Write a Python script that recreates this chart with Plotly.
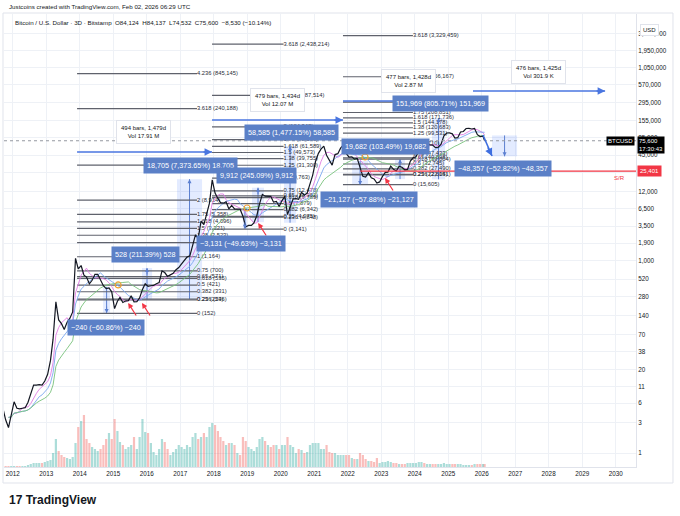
import math
import pandas as pd
import plotly.graph_objects as go

FONT = "Liberation Sans, Arial, sans-serif"
TXT = "#131722"

# ---------------- data ----------------
# representative monthly BTC/USD price (Bitstamp), Sep 2011 .. Feb 2026
price_close = [
    5.0, 3.3, 2.5, 3.8,                                                          # 2011 Sep-Dec
    6.3, 5.0, 4.9, 5.0, 5.1, 6.2, 8.5, 11.5, 11.5, 11.7, 11.5, 13.3,             # 2012
    17, 28, 60, 230, 120, 105, 85, 110, 128, 160, 1100, 750,                     # 2013
    850, 600, 560, 440, 500, 620, 620, 500, 410, 370, 380, 330,                  # 2014
    180, 235, 270, 225, 237, 240, 285, 230, 232, 265, 360, 440,                  # 2015
    400, 410, 415, 440, 460, 700, 660, 575, 610, 640, 730, 790,                  # 2016
    900, 1040, 1150, 1200, 1800, 2550, 2250, 4200, 3700, 5600, 8000, 18500,      # 2017
    11500, 9500, 8200, 8000, 8400, 6500, 7400, 6500, 6500, 6450, 5000, 3400,     # 2018
    3600, 3600, 3950, 5100, 7800, 11000, 10300, 10300, 10200, 8300, 8500, 7100,  # 2019
    8800, 10200, 5300, 7100, 9300, 9400, 9200, 11800, 10700, 11500, 16500, 22000,          # 2020
    36000, 48000, 56000, 62500, 45000, 38000, 31500, 46000, 47500, 58000, 65000, 48000,    # 2021
    42000, 42500, 39000, 40000, 30000, 21000, 20500, 24000, 20000, 19100, 16500, 17200,    # 2022
    21000, 24300, 24500, 30300, 27000, 25500, 30300, 29200, 26600, 27000, 36500, 41000,    # 2023
    42500, 51800, 71000, 63500, 66000, 66300, 64800, 59000, 60000, 67000, 90000, 100000,   # 2024
    100500, 97000, 83000, 84500, 103500, 105500, 117500, 118000, 115500, 118000, 94000, 88000,  # 2025
    89500, 75600,                                                                # 2026
]
# relative volume (monthly)
volume = [
    1, 1, 1, 1,
    1, 1, 1, 1, 1, 2, 3, 4, 4, 4, 4, 5,
    6, 7, 14, 28, 16, 12, 10, 9, 8, 10, 24, 40,
    46, 52, 28, 24, 20, 18, 16, 18, 22, 28, 34, 28,
    48, 36, 25, 22, 18, 20, 22, 30, 18, 30, 48, 35,
    34, 24, 15, 12, 18, 28, 25, 18, 12, 15, 18, 22,
    20, 18, 22, 20, 30, 34, 28, 30, 34, 30, 40, 44,
    42, 36, 30, 26, 22, 24, 24, 22, 14, 12, 30, 26,
    20, 18, 16, 20, 28, 30, 26, 22, 20, 22, 22, 18,
    22, 22, 30, 22, 20, 14, 18, 17, 14, 15, 22, 24,
    24, 24, 18, 18, 22, 15, 14, 14, 12, 12, 12, 12,
    12, 9, 8, 8, 14, 12, 8, 6, 6, 5, 9, 4,
    5, 5, 6, 5, 4, 4, 3, 3, 3, 4, 4, 4,
    4, 5, 5, 4, 3, 3, 3, 3, 3, 3, 4, 3,
    3, 3, 3, 3, 3, 2, 2, 2, 2, 3, 3, 3,
    3, 3,
]
last_date = "2026-02-02"
last_price = 75600

y_ticks = [1, 3, 6, 11, 20, 38, 70, 140, 280, 520, 1000, 1900, 3500, 6500, 12000,
           24000, 45000, 85000, 155000, 295000, 570000, 1050000, 1950000, 3550000]
y_tick_text = [f"{v:,}" for v in y_ticks]

# Fibonacci sets: start, end, price at level 0, price at level 1
fib_a = ["2013-12-02", "2017-07-02", 152, 1164]
fib_b = ["2017-12-13", "2020-02-01", 3141, 19763]
fib_c = ["2021-11-10", "2023-12-13", 15605, 68710]
fib_levels_a = [0, 0.236, 0.25, 0.382, 0.5, 0.618, 0.65, 0.75, 1, 1.25, 1.38, 1.5, 1.618, 1.75, 2, 2.618, 3.618, 4.236]
fib_levels_b = [0, 0.236, 0.25, 0.382, 0.5, 0.618, 0.65, 0.75, 1, 1.25, 1.38, 1.5, 1.618, 1.75, 2, 2.618, 3.618]
fib_levels_c = [0, 0.236, 0.25, 0.382, 0.5, 0.618, 0.65, 0.75, 1, 1.25, 1.38, 1.5, 1.618, 1.75, 2, 2.618, 3.618]

# price-range measurements
meas_x0 = ["2014-09-12", "2015-11-10", "2016-11-26", "2018-11-15", "2019-02-22", "2020-02-06", "2022-02-18", "2023-06-01", "2024-07-08", "2026-04-24"]
meas_x1 = ["2014-11-27", "2016-02-28", "2017-08-26", "2018-12-29", "2019-07-03", "2020-06-17", "2022-08-11", "2023-09-18", "2024-11-28", "2027-01-22"]
meas_from = [394, 249.8, 253.7, 6309, 4044, 3966, 36502, 19019, 18862, 91551]
meas_to = [154, 777.8, 18958, 3178, 13956, 62551, 15375, 38701, 170831, 43194]
meas_text = ["−240 (−60.86%) −240", "528 (211.39%) 528", "18,705 (7,373.65%) 18,705",
             "−3,131 (−49.63%) −3,131", "9,912 (245.09%) 9,912", "58,585 (1,477.15%) 58,585",
             "−21,127 (−57.88%) −21,127", "19,682 (103.49%) 19,682", "151,969 (805.71%) 151,969",
             "−48,357 (−52.82%) −48,357"]
meas_lbl_x = ["2014-10-16", "2015-12-13", "2017-04-20", "2018-10-25", "2019-04-08", "2020-04-23", "2022-08-16", "2023-02-17", "2024-10-08", "2026-08-25"]
meas_lbl_p = [93, 1241, 30500, 1910, 21290, 100000, 9300, 62600, 294000, 27380]

# date ranges
rng_start = ["2013-12-02", "2017-12-13", "2021-11-10", "2025-09-28"]
rng_end = ["2017-12-13", "2021-11-10", "2025-09-28", "2029-09-08"]
rng_price = [50500, 159700, 316000, 453000]
rng_text = ["494 bars, 1,479d<br>Vol 17.91 M", "479 bars, 1,434d<br>Vol 12.07 M",
            "477 bars, 1,428d<br>Vol 2.87 M", "476 bars, 1,425d<br>Vol 301.9 K"]
rng_lbl_x = ["2015-11-21", "2019-11-22", "2023-10-21", "2027-09-18"]
rng_lbl_p = [103700, 328000, 649000, 898000]

# red arrows (heads) and orange circles
red_arrow_x = ["2015-06-12", "2015-11-10", "2019-04-30", "2023-02-12"]
red_arrow_p = [221, 221, 3926, 19800]
circle_x = ["2015-02-23", "2018-12-30", "2022-07-09"]
circle_p = [422, 6730, 42170]

sr_level = 25401
sr_start = "2022-05-18"
proj_x = ["2026-01-15", "2026-04-24"]
proj_p = [93100, 43700]

x_range = ["2011-09-27", "2030-08-11"]
y_range_log = [-0.21875, 6.859]

# ---------------- build ----------------
n = len(price_close)
dates = list(pd.date_range("2011-09-01", periods=n, freq="MS") + pd.Timedelta(days=14))
dates[-1] = pd.Timestamp(last_date)
s = pd.Series(price_close, dtype=float)

fig = go.Figure()

vcol = ["rgba(38,166,154,0.38)" if i == 0 or price_close[i] >= price_close[i - 1]
        else "rgba(239,83,80,0.38)" for i in range(n)]
fig.add_trace(go.Bar(x=dates, y=volume, marker=dict(color=vcol, line=dict(width=0)),
                     width=24 * 86400000, yaxis="y"))

# measurement boxes
for x0, x1, a, b in zip(meas_x0, meas_x1, meas_from, meas_to):
    lo, hi = min(a, b), max(a, b)
    fig.add_trace(go.Scatter(x=[x0, x1, x1, x0, x0], y=[lo, lo, hi, hi, lo], yaxis="y2",
                             mode="lines", fill="toself", fillcolor="rgba(41,98,255,0.13)",
                             line=dict(width=0)))
    mid = pd.Timestamp(x0) + (pd.Timestamp(x1) - pd.Timestamp(x0)) / 2
    fig.add_trace(go.Scatter(x=[mid, mid], y=[a, b], yaxis="y2", mode="lines",
                             line=dict(color="#5b7fd0", width=1)))

# fib sets
def fib_traces(anchor, levels):
    x0, x1, p0, p1 = anchor
    xs, ys, tx, ty, tt = [], [], [], [], []
    for lv in levels:
        v = p0 * (p1 / p0) ** lv
        xs += [x0, x1, None]
        ys += [v, v, None]
        tx.append(x1)
        ty.append(v)
        tt.append(f"{lv:g} ({v:,.0f})")
    fig.add_trace(go.Scatter(x=xs, y=ys, yaxis="y2", mode="lines",
                             line=dict(color="#5f626c", width=1.2)))
    fig.add_trace(go.Scatter(x=tx, y=ty, yaxis="y2", mode="text", text=tt,
                             textposition="middle right",
                             textfont=dict(size=5.8, color="#2a2e39", family=FONT)))

fib_traces(fib_a, fib_levels_a)
fib_traces(fib_b, fib_levels_b)
fib_traces(fib_c, fib_levels_c)

# moving averages
for w, c in zip([5, 10, 20], ["#e07de3", "#7aa7ee", "#78c27c"]):
    fig.add_trace(go.Scatter(x=dates, y=s.rolling(w, min_periods=3).mean(), yaxis="y2",
                             mode="lines", line=dict(color=c, width=0.9)))

# price
fig.add_trace(go.Scatter(x=dates, y=price_close, yaxis="y2", mode="lines",
                         line=dict(color="#131722", width=1.2)))

# current price dotted line
fig.add_trace(go.Scatter(x=x_range, y=[last_price, last_price], yaxis="y2", mode="lines",
                         line=dict(color="#9598a1", width=1, dash="dot")))
# S/R line
fig.add_trace(go.Scatter(x=[sr_start, x_range[1]], y=[sr_level, sr_level], yaxis="y2",
                         mode="lines", line=dict(color="#f23645", width=1.2)))
# date range lines
for a, b, p in zip(rng_start, rng_end, rng_price):
    fig.add_trace(go.Scatter(x=[a, b], y=[p, p], yaxis="y2", mode="lines",
                             line=dict(color="#4a76e0", width=1.6)))
# projection arrow line
fig.add_trace(go.Scatter(x=proj_x, y=proj_p, yaxis="y2", mode="lines",
                         line=dict(color="#3f6fe0", width=1.6)))
# circles
fig.add_trace(go.Scatter(x=circle_x, y=circle_p, yaxis="y2", mode="markers",
                         marker=dict(symbol="circle-open", size=6, color="#f0a030",
                                     line=dict(width=1.2))))

ann = []
L = math.log10
for b, p in zip(rng_end, rng_price):
    ann.append(dict(x=b, y=L(p), xref="x", yref="y2", ax=-10, ay=0, text="",
                    showarrow=True, arrowhead=2, arrowsize=1, arrowwidth=1.5, arrowcolor="#4a76e0"))
ann.append(dict(x=proj_x[1], y=L(proj_p[1]), xref="x", yref="y2", ax=-5, ay=-10, text="",
                showarrow=True, arrowhead=2, arrowwidth=1.5, arrowcolor="#3f6fe0"))
for x0, x1, a, b in zip(meas_x0, meas_x1, meas_from, meas_to):
    mid = pd.Timestamp(x0) + (pd.Timestamp(x1) - pd.Timestamp(x0)) / 2
    ann.append(dict(x=mid, y=L(b), xref="x", yref="y2", ax=0, ay=(8 if b > a else -8), text="",
                    showarrow=True, arrowhead=2, arrowsize=0.8, arrowwidth=1, arrowcolor="#5b7fd0"))
for x, p in zip(red_arrow_x, red_arrow_p):
    ann.append(dict(x=x, y=L(p), xref="x", yref="y2", ax=9, ay=14, text="",
                    showarrow=True, arrowhead=2, arrowsize=0.9, arrowwidth=1.2, arrowcolor="#f23645"))
for x, p, t in zip(rng_lbl_x, rng_lbl_p, rng_text):
    ann.append(dict(x=x, y=L(p), xref="x", yref="y2", text=t, showarrow=False,
                    bgcolor="white", bordercolor="#e0e3eb", borderwidth=1, borderpad=4,
                    font=dict(size=6, color=TXT, family=FONT)))
for x, p, t in zip(meas_lbl_x, meas_lbl_p, meas_text):
    ann.append(dict(x=x, y=L(p), xref="x", yref="y2", text=t, showarrow=False,
                    bgcolor="#5b80c7", borderpad=3,
                    font=dict(size=7.2, color="white", family=FONT)))

ann.append(dict(x=1, y=L(last_price), xref="paper", yref="y2", xanchor="left", yanchor="top",
                yshift=5, xshift=1, text="75,600<br>17:30:43", showarrow=False, bgcolor="#000000",
                borderpad=1, align="left", font=dict(size=6, color="white", family=FONT)))
ann.append(dict(x=1, y=L(last_price), xref="paper", yref="y2", xanchor="right", yanchor="middle",
                xshift=-1, text="BTCUSD", showarrow=False, bgcolor="#000000", borderpad=1,
                font=dict(size=6, color="white", family=FONT)))
ann.append(dict(x=1, y=L(sr_level), xref="paper", yref="y2", xanchor="left", yanchor="middle",
                xshift=1, text="25,401", showarrow=False, bgcolor="#f23645", borderpad=2,
                font=dict(size=6, color="white", family=FONT)))
ann.append(dict(x=0.985, y=L(19800), xref="paper", yref="y2", text="S/R", showarrow=False,
                font=dict(size=6, color="#f23645", family=FONT)))
ann.append(dict(x=1.006, y=0.978, xref="paper", yref="paper", xanchor="left", text="USD",
                showarrow=False, bgcolor="white", bordercolor="#e0e3eb", borderwidth=1, borderpad=2,
                font=dict(size=6, color=TXT, family=FONT)))
ann.append(dict(x=0.0047, y=1.0155, xref="paper", yref="paper", xanchor="left", yanchor="middle",
                text="Justcoins created with TradingView.com, Feb 02, 2026 06:29 UTC", showarrow=False,
                font=dict(size=6.2, color=TXT, family=FONT)))
ann.append(dict(x=0.014, y=0.982, xref="paper", yref="paper", xanchor="left", yanchor="middle",
                text="Bitcoin / U.S. Dollar · 3D · Bitstamp  O84,124  H84,137  L74,532  C75,600  −8,530 (−10.14%)",
                showarrow=False, font=dict(size=6.2, color=TXT, family=FONT)))
ann.append(dict(x=0.005, y=-0.073, xref="paper", yref="paper", xanchor="left", yanchor="middle",
                text="<b>17 TradingView</b>", showarrow=False,
                font=dict(size=12, color=TXT, family=FONT)))

fig.update_layout(
    width=680, height=516,
    margin=dict(l=4, r=44, t=14, b=49),
    paper_bgcolor="white", plot_bgcolor="white",
    showlegend=False, hovermode=False,
    font=dict(family=FONT, size=6, color=TXT),
    annotations=ann,
    xaxis=dict(type="date", range=x_range, tick0="2012-01-01", dtick="M12", tickformat="%Y",
               showgrid=True, gridcolor="#eef1f6", zeroline=False, showline=True,
               linecolor="#e0e3eb", ticks="", tickfont=dict(size=6.3, color=TXT)),
    yaxis=dict(range=[0, 453], visible=False, showgrid=False),
    yaxis2=dict(type="log", overlaying="y", side="right", anchor="x", range=y_range_log,
                tickvals=y_ticks, ticktext=y_tick_text, showgrid=True, gridcolor="#eef1f6",
                zeroline=False, showline=True, linecolor="#e0e3eb", ticks="",
                tickfont=dict(size=6.3, color=TXT)),
    shapes=[dict(type="rect", xref="paper", yref="paper", x0=-0.0016, x1=1.0585,
                 y0=-0.0353, y1=1.0022, line=dict(color="#e0e3eb", width=1))],
)

fig.write_html("out.html", config={"displayModeBar": False},
               post_script="document.body.style.margin='0';document.body.style.overflow='hidden';")
